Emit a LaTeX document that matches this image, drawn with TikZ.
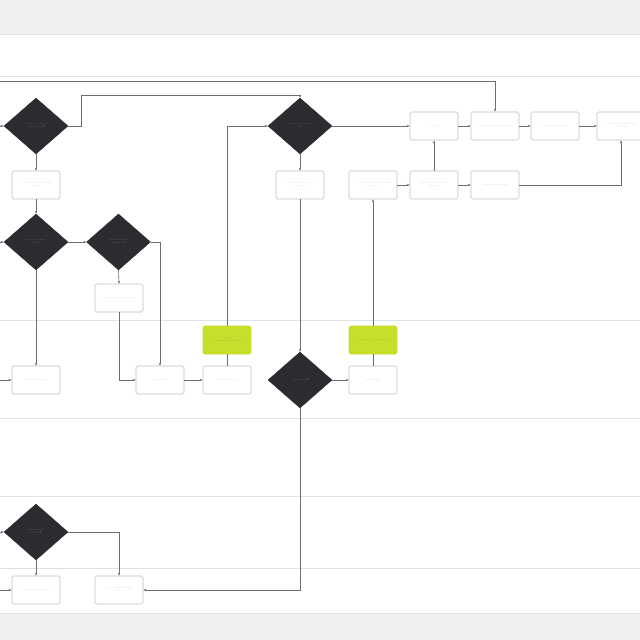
\documentclass[tikz,border=0pt]{standalone}
\usetikzlibrary{shapes.geometric,arrows.meta}
\definecolor{bandgray}{HTML}{EFEFEF}
\definecolor{laneline}{HTML}{DCE3E8}
\definecolor{dia}{HTML}{2C2C30}
\definecolor{lime}{HTML}{C8DE2C}
\definecolor{boxline}{HTML}{BEBEBE}
\definecolor{conn}{HTML}{6E6E6E}
\definecolor{txt}{HTML}{5A5A5A}
\tikzset{
  dec/.style={shape=diamond, fill=dia, draw=dia, minimum width=64pt, minimum height=56pt, inner sep=0pt,
     text=white, font=\fontsize{2.5}{3}\selectfont, align=center, text width=30pt},
  pbox/.style={rectangle, rounded corners=1.5pt, draw=boxline, line width=0.6pt, fill=white,
     minimum width=48pt, minimum height=28pt, inner sep=0pt,
     text=txt, font=\fontsize{2.5}{3}\selectfont, align=center, text width=40pt},
  gbox/.style={pbox, fill=lime, draw=lime, text=black!75},
  flow/.style={draw=conn, line width=0.6pt, -{Stealth[length=3pt,width=2.4pt]}},
  plain/.style={draw=conn, line width=0.6pt},
  lane/.style={draw=laneline, line width=0.7pt},
}
\begin{document}
\begin{tikzpicture}[x=1pt,y=-1pt]
\useasboundingbox (0,0) rectangle (640,640);
\fill[white] (0,0) rectangle (640,640);
\fill[bandgray] (0,0) rectangle (640,34);
\fill[bandgray] (0,613) rectangle (640,640);
\foreach \yy in {34,76,320,418,496,568,613} \draw[lane] (0,\yy) -- (640,\yy);

% decisions
\node[dec] (d1) at (36,126) {-------- ----- --------\\---- ----------?};
\node[dec] (d2) at (36,242) {----------- ------\\--------};
\node[dec] (d3) at (118.5,242) {---- ------- -----\\------- ----};
\node[dec] (d4) at (300,126) {--------- -- -----------\\----};
\node[dec] (d5) at (300,380) {------ -------?};
\node[dec] (d6) at (36,532) {------- -------\\--------?};

% boxes
\node[pbox] (b1) at (36,185) {------- ---------- -------\\-------};
\node[pbox] (b2) at (119,298) {------ ------- -- ------- ----};
\node[pbox] (b3) at (36,380) {------- -------- -----};
\node[pbox] (b4) at (160,380) {------- ----};
\node[pbox] (b5) at (227,380) {---- --------- -----};
\node[gbox] (g1) at (227,340) {------\\------- ---------- ------};
\node[gbox] (g2) at (373,340) {------- -- ----- ---------- --};
\node[pbox] (b6) at (373,380) {------- ---- --};
\node[pbox] (b7) at (300,185) {--------- ------ --- -- ---\\---------};
\node[pbox] (b8) at (373,185) {--- ------- ---------- -------\\-----------};
\node[pbox] (b9) at (434,185) {------ --- ---------- ---\\---------};
\node[pbox] (b10) at (495,185) {-------- --- -- -------};
\node[pbox] (b11) at (434,126) {-- -----};
\node[pbox] (b12) at (495,126) {-------- -- ------- ------- --};
\node[pbox] (b13) at (555,126) {------ -- ------ -------};
\node[pbox] (b14) at (621,126) {------ --- ------- ---------\\----------};
\node[pbox] (b15) at (36,590) {-------- --- --- ------- --};
\node[pbox] (b16) at (119,590) {------ -------- -------\\------};

% free ends
\coordinate (e1) at (0,126);
\coordinate (e2) at (0,81);
\coordinate (e3) at (0,242);
\coordinate (e4) at (0,380);
\coordinate (e5) at (0,532);
\coordinate (e6) at (0,590);

% connectors
\draw[flow] (e1) -- (d1.west);
\draw[flow] (d1.east) -- (81,126) -- (81,95) -- (300,95) -- (d4.north);
\draw[flow] (e2) -- (495,81) -- (b12.north);
\draw[flow] (d1.south) -- (b1.north);
\draw[flow] (b1.south) -- (d2.north);
\draw[flow] (e3) -- (d2.west);
\draw[flow] (d2.east) -- (d3.west);
\draw[flow] (d2.south) -- (b3.north);
\draw[flow] (e4) -- (b3.west);
\draw[flow] (d3.south) -- (b2.north);
\draw[flow] (d3.east) -- (160,242) -- (b4.north);
\draw[flow] (b2.south) -- (119,380) -- (b4.west);
\draw[flow] (b4.east) -- (b5.west);
\draw[plain] (b5.north) -- (g1.south);
\draw[flow] (g1.north) -- (227,126) -- (d4.west);
\draw[flow] (d4.east) -- (b11.west);
\draw[flow] (d4.south) -- (b7.north);
\draw[flow] (b7.south) -- (d5.north);
\draw[flow] (d5.east) -- node[above, font=\fontsize{2.2}{2.6}\selectfont, text=txt, inner sep=0.5pt]{--} (b6.west);
\draw[plain] (b6.north) -- (g2.south);
\draw[flow] (g2.north) -- (b8.south);
\draw[flow] (b8.east) -- (b9.west);
\draw[flow] (b9.north) -- (b11.south);
\draw[flow] (b9.east) -- (b10.west);
\draw[flow] (b10.east) -- (621,185) -- (b14.south);
\draw[flow] (b11.east) -- (b12.west);
\draw[flow] (b12.east) -- (b13.west);
\draw[flow] (b13.east) -- (b14.west);
\draw[flow] (d5.south) -- (300,590) -- (b16.east);
\draw[flow] (d6.east) -- (119,532) -- (b16.north);
\draw[flow] (d6.south) -- (b15.north);
\draw[flow] (e5) -- (d6.west);
\draw[flow] (e6) -- (b15.west);
\end{tikzpicture}
\end{document}
